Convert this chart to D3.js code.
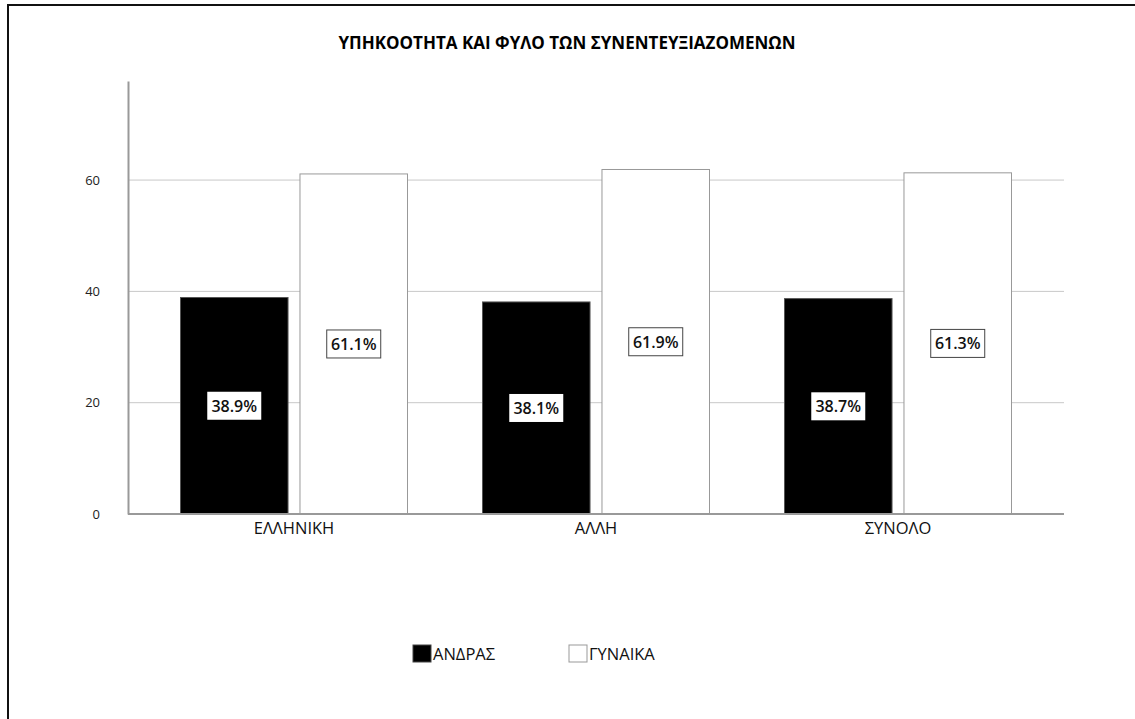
<!DOCTYPE html>
<html>
<head>
<meta charset="utf-8">
<script src="https://cdn.jsdelivr.net/npm/d3@7"></script>
<style>
  body { margin: 0; background: #fff; }
  svg { display: block; font-family: "Open Sans", "DejaVu Sans", sans-serif; }
</style>
</head>
<body>
<div id="chart"></div>
<script>
// data
const categories = ["ΕΛΛΗΝΙΚΗ", "ΑΛΛΗ", "ΣΥΝΟΛΟ"];
const series = ["ΑΝΔΡΑΣ", "ΓΥΝΑΙΚΑ"];
const andras = [38.9, 38.1, 38.7];
const gynaika = [61.1, 61.9, 61.3];
const yTicks = [0, 20, 40, 60];

const width = 1135, height = 719;
const fills = { "ΑΝΔΡΑΣ": "#000", "ΓΥΝΑΙΚΑ": "#fff" };

const rows = categories.map((c, i) => ({ cat: c, values: [
    { key: series[0], value: andras[i] },
    { key: series[1], value: gynaika[i] }
] }));

const svg = d3.select("#chart").append("svg")
    .attr("width", width)
    .attr("height", height);

// outer frame (runs off the right and bottom edges)
svg.append("rect")
    .attr("x", 8).attr("y", 5)
    .attr("width", width + 20).attr("height", height + 20)
    .attr("fill", "none")
    .attr("stroke", "#111")
    .attr("stroke-width", 2);

svg.append("text")
    .attr("x", 567).attr("y", 49)
    .attr("text-anchor", "middle")
    .style("font-size", "17px")
    .style("font-weight", "bold")
    .text("ΥΠΗΚΟΟΤΗΤΑ ΚΑΙ ΦΥΛΟ ΤΩΝ ΣΥΝΕΝΤΕΥΞΙΑΖΟΜΕΝΩΝ");

const plotLeft = 128, plotRight = 1064;

const y = d3.scaleLinear().domain([0, 77.8]).range([514, 81]);
const x0 = d3.scaleBand().domain(categories).range([143, 1049]).paddingInner(0).paddingOuter(0);
const x1 = d3.scaleBand().domain(series).range([0, 227]).paddingInner(0.1);
const groupOffset = (x0.bandwidth() - 227) / 2;

// gridlines
svg.append("g")
    .selectAll("line")
    .data(yTicks.filter(d => d > 0))
    .join("line")
    .attr("x1", plotLeft).attr("x2", plotRight)
    .attr("y1", d => y(d)).attr("y2", d => y(d))
    .attr("stroke", "#c8c8c8")
    .attr("stroke-width", 1);

// y axis
const yAxis = svg.append("g")
    .attr("transform", `translate(${plotLeft},0)`)
    .call(d3.axisLeft(y).tickValues(yTicks).tickSize(0).tickPadding(28));
yAxis.select(".domain").attr("stroke", "#999").attr("stroke-width", 2);
yAxis.selectAll("text").style("font-size", "13px").attr("fill", "#222")
    .attr("font-family", "'Open Sans', sans-serif");

// bars
const groups = svg.append("g")
    .selectAll("g")
    .data(rows)
    .join("g")
    .attr("transform", d => `translate(${x0(d.cat) + groupOffset},0)`);

groups.selectAll("rect")
    .data(d => d.values)
    .join("rect")
    .attr("x", d => x1(d.key))
    .attr("y", d => y(d.value))
    .attr("width", x1.bandwidth())
    .attr("height", d => y(0) - y(d.value))
    .attr("fill", d => fills[d.key])
    .attr("stroke", d => d.key === series[0] ? "#555" : "#999")
    .attr("stroke-width", 1);

// value labels
const lab = groups.selectAll("g.lab")
    .data(d => d.values)
    .join("g")
    .attr("class", "lab")
    .attr("transform", d => `translate(${x1(d.key) + x1.bandwidth() / 2},${y(d.value / 2)})`);

lab.append("rect")
    .attr("x", -27).attr("y", -14)
    .attr("width", 54).attr("height", 28)
    .attr("fill", "#fff")
    .attr("stroke", d => d.key === series[0] ? "none" : "#444")
    .attr("stroke-width", 1);

lab.append("text")
    .attr("text-anchor", "middle")
    .attr("dy", "0.36em")
    .style("font-size", "16px")
    .style("font-weight", "600")
    .attr("fill", "#111")
    .text(d => d.value.toFixed(1) + "%");

// x axis
const xAxis = svg.append("g")
    .attr("transform", `translate(0,${y(0)})`)
    .call(d3.axisBottom(x0).tickSize(0).tickPadding(8));
xAxis.select(".domain").remove();
xAxis.selectAll("text").style("font-size", "16.5px").attr("fill", "#111")
    .attr("font-family", "'Open Sans', sans-serif");
svg.append("line")
    .attr("x1", plotLeft).attr("x2", plotRight)
    .attr("y1", y(0)).attr("y2", y(0))
    .attr("stroke", "#999")
    .attr("stroke-width", 2);

// legend
const legendX = [413, 569];
const legend = svg.append("g")
    .selectAll("g")
    .data(series)
    .join("g")
    .attr("transform", (d, i) => `translate(${legendX[i]},645)`);

legend.append("rect")
    .attr("width", 18).attr("height", 17)
    .attr("fill", d => fills[d])
    .attr("stroke", d => d === series[0] ? "#444" : "#999");

legend.append("text")
    .attr("x", 20).attr("y", 15)
    .style("font-size", "16.5px")
    .attr("fill", "#111")
    .text(d => d);
</script>
</body>
</html>
